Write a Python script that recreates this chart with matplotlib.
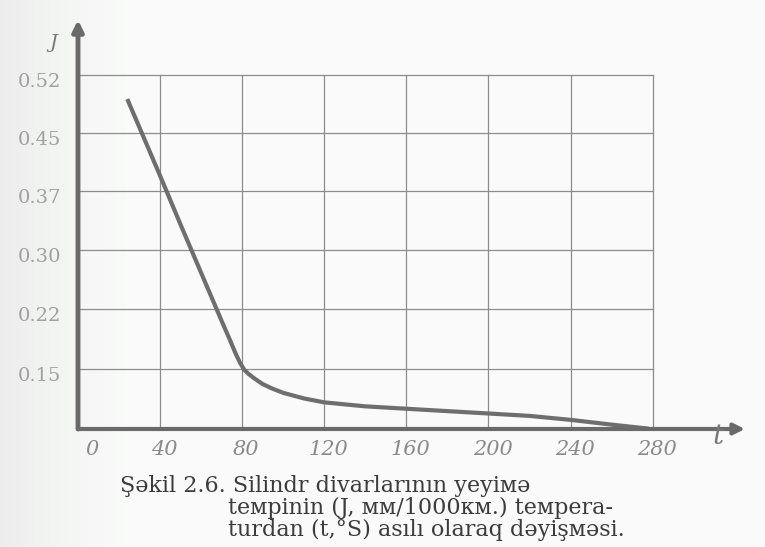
import numpy as np
import matplotlib
matplotlib.use('Agg')
import matplotlib.pyplot as plt
from matplotlib.transforms import ScaledTranslation

# Data
t_vals = [24, 32, 40, 50, 60, 70, 74, 77, 79, 81, 83, 86, 90, 95, 100, 110, 120, 140, 160, 180, 200, 220, 240,
          260, 278]
j_vals = [0.491, 0.444, 0.391, 0.330, 0.269, 0.206, 0.184, 0.167, 0.157, 0.149, 0.144, 0.138, 0.131, 0.125,
          0.120, 0.113, 0.108, 0.103, 0.100, 0.097, 0.094, 0.091, 0.086, 0.080, 0.075]
x_ticks = [0, 40, 80, 120, 160, 200, 240, 280]
y_ticks = [0.52, 0.45, 0.37, 0.30, 0.22, 0.15]
y_labels = ['0.52', '0.45', '0.37', '0.30', '0.22', '0.15']
caption = ['Şəkil 2.6. Silindr divarlarının yeyiмə',
           'teмpinin (J, мм/1000км.) teмpera-',
           'turdan (t,°S) asılı olaraq dəyişмəsi.']

# the printed J axis has equally spaced rows for unequal steps -> piecewise scale
y_lo, y_hi = 0.0745, 0.589
scale_vals = [y_lo, 0.15, 0.22, 0.30, 0.37, 0.45, 0.52, y_hi]
scale_pos = [0, 60, 120, 179, 238, 296, 354, 409]


def fwd(v):
    return np.interp(v, scale_vals, scale_pos, left=-1e3, right=1e3)


def inv(p):
    return np.interp(p, scale_pos, scale_vals)


serif = ['DejaVu Serif']

fig = plt.figure(figsize=(7.65, 5.47), dpi=100)
fig.patch.set_facecolor('#f6f8f6')

# faint scan shadow on the left edge
bg = fig.add_axes([0, 0, 1, 1], zorder=-5)
grad = np.linspace(0, 1, 200)
shade = np.clip(grad * 6, 0, 1)[None, :] * np.ones((50, 1))
bg.imshow(shade, cmap='Greys_r', vmin=-3, vmax=1, aspect='auto', extent=[0, 1, 0, 1], alpha=0.35)
bg.axis('off')

ax = fig.add_axes([78 / 765, 118 / 547, 667 / 765, 409 / 547])
ax.patch.set_alpha(0)
ax.set_yscale('function', functions=(fwd, inv))
ax.set_xlim(0, 325)
ax.set_ylim(y_lo, y_hi)
for s in ax.spines.values():
    s.set_visible(False)

grid_c = '#8c8c8c'
# grid box: vertical lines at x ticks, horizontal at y ticks
for xv in x_ticks[1:]:
    ax.plot([xv, xv], [y_lo, y_ticks[0]], color=grid_c, lw=0.9, zorder=1)
for yv in y_ticks:
    ax.plot([0, x_ticks[-1]], [yv, yv], color=grid_c, lw=0.9, zorder=1)

# curve
ax.plot(t_vals, j_vals, color='#6e6e6e', lw=3, solid_capstyle='butt', solid_joinstyle='round', zorder=3)

# axes with arrows
axis_c = '#6a6a6a'
ax.annotate('', xy=(325, y_lo), xytext=(0, y_lo),
            arrowprops=dict(arrowstyle='-|>', lw=3, color=axis_c, mutation_scale=16,
                            shrinkA=0, shrinkB=0), annotation_clip=False, zorder=4)
ax.annotate('', xy=(0, y_hi), xytext=(0, y_lo),
            arrowprops=dict(arrowstyle='-|>', lw=3.5, color=axis_c, mutation_scale=16,
                            shrinkA=0, shrinkB=0), annotation_clip=False, zorder=4)

ax.set_xticks(x_ticks)
ax.set_xticklabels([str(v) for v in x_ticks], family=serif, style='italic', fontsize=15, color='#8a8a8a')
ax.set_yticks(y_ticks)
ax.set_yticklabels(y_labels, family=serif, fontsize=14, color='#a0a0a0')
ax.minorticks_off()
ax.tick_params(axis='both', length=0)
ax.tick_params(axis='x', pad=8)
ax.tick_params(axis='y', pad=12)
for lab in ax.get_yticklabels():
    lab.set_transform(lab.get_transform() + ScaledTranslation(0, -5 / 100, fig.dpi_scale_trans))
for i, lab in enumerate(ax.get_xticklabels()):
    dx = 14 if i == 0 else 4
    lab.set_transform(lab.get_transform() + ScaledTranslation(dx / 100, 0, fig.dpi_scale_trans))

# axis letters
fig.text(53 / 765, 1 - 43 / 547, 'J', family=serif, style='italic', fontsize=14, color='#777777',
         ha='center', va='center')
fig.text(718 / 765, 1 - 437 / 547, 't', family=serif, style='italic', fontsize=20, color='#777777',
         ha='center', va='center')

# caption
cap_c = '#3c3c3c'
fig.text(120 / 765, 1 - 492 / 547, caption[0], family=serif, fontsize=16, color=cap_c, va='baseline')
fig.text(228 / 765, 1 - 514 / 547, caption[1], family=serif, fontsize=16, color=cap_c, va='baseline')
fig.text(228 / 765, 1 - 536 / 547, caption[2], family=serif, fontsize=16, color=cap_c, va='baseline')

fig.savefig('out.png', dpi=100, facecolor=fig.get_facecolor())
